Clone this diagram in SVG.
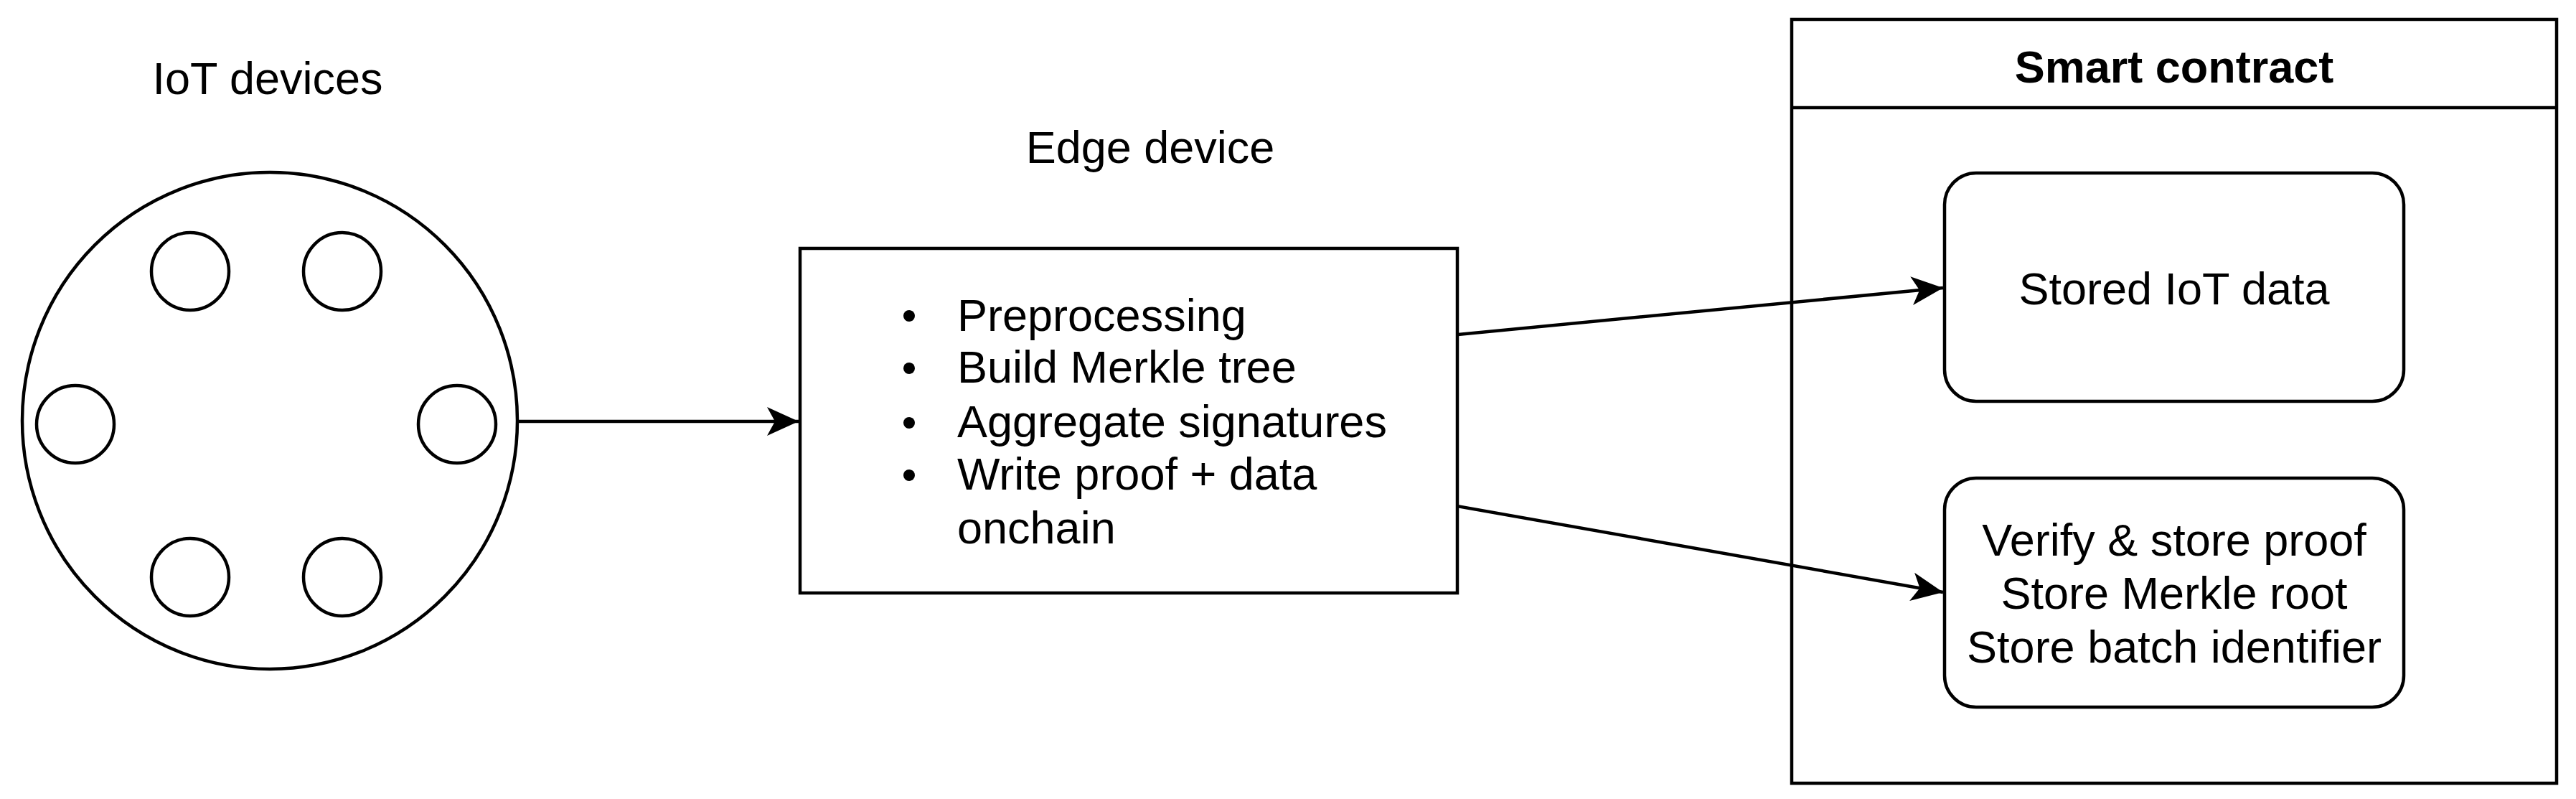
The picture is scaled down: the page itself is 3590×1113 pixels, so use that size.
<svg xmlns="http://www.w3.org/2000/svg" width="3590" height="1113" viewBox="0 0 3590 1113">
<style>
.s{fill:#fff;stroke:#000;stroke-width:4.5}
.t{font-family:"Liberation Sans",Arial,sans-serif;font-size:63px;fill:#000}
.c{text-anchor:middle}
.e{fill:none;stroke:#000;stroke-width:4.5}
</style>
<defs>
<marker id="m" viewBox="0 0 46 46" refX="44" refY="23" markerWidth="46" markerHeight="46" markerUnits="userSpaceOnUse" orient="auto">
<path d="M0,3 L44,23 L0,43 L11,23 Z" fill="#000"/>
</marker>
</defs>
<g id="iot">
<text class="t c" x="373" y="131">IoT devices</text>
<ellipse class="s" cx="376" cy="586" rx="345" ry="346"/>
<ellipse class="s" cx="265" cy="378" rx="54" ry="54"/>
<ellipse class="s" cx="477" cy="378" rx="54" ry="54"/>
<ellipse class="s" cx="105" cy="591" rx="54" ry="54"/>
<ellipse class="s" cx="637" cy="591" rx="54" ry="54"/>
<ellipse class="s" cx="265" cy="804" rx="54" ry="54"/>
<ellipse class="s" cx="477" cy="804" rx="54" ry="54"/>
</g>
<g id="edge">
<text class="t c" x="1603" y="227">Edge device</text>
<rect class="s" x="1115" y="346" width="916" height="480"/>
<g class="t">
<circle cx="1267" cy="440" r="8"/><text x="1334" y="461">Preprocessing</text>
<circle cx="1267" cy="513" r="8"/><text x="1334" y="533">Build Merkle tree</text>
<circle cx="1267" cy="589" r="8"/><text x="1334" y="609">Aggregate signatures</text>
<circle cx="1267" cy="662" r="8"/><text x="1334" y="682">Write proof + data</text>
<text x="1334" y="757">onchain</text>
</g>
</g>
<g id="contract">
<rect class="s" x="2497" y="27" width="1066" height="1064"/>
<line class="e" x1="2497" y1="150" x2="3563" y2="150"/>
<text class="t c" x="3030" y="115" font-weight="bold">Smart contract</text>
</g>
<g id="stored">
<rect class="s" x="2710" y="241" width="640" height="318" rx="44"/>
<text class="t c" x="3030" y="424">Stored IoT data</text>
</g>
<g id="verify">
<rect class="s" x="2710" y="666" width="640" height="319" rx="44"/>
<text class="t c" x="3030" y="774">Verify &amp; store proof</text>
<text class="t c" x="3030" y="848">Store Merkle root</text>
<text class="t c" x="3030" y="923">Store batch identifier</text>
</g>
<g id="connectors">
<line class="e" x1="723" y1="587" x2="1113" y2="587" marker-end="url(#m)"/>
<line class="e" x1="2031" y1="466" x2="2708" y2="401" marker-end="url(#m)"/>
<line class="e" x1="2031" y1="705" x2="2708" y2="825" marker-end="url(#m)"/>
</g>
</svg>
